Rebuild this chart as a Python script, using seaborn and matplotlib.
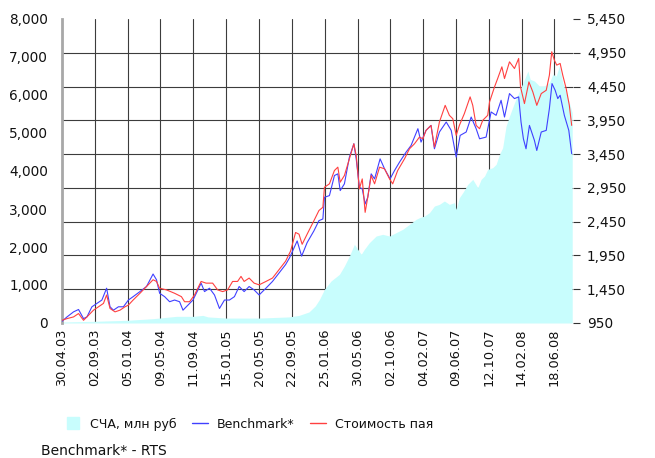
import numpy as np
import pandas as pd
import matplotlib
matplotlib.use("Agg")
import matplotlib.pyplot as plt
import matplotlib.ticker as mticker
from matplotlib.lines import Line2D
import seaborn as sns

# ---------------- data ----------------
start_date = "2003-04-30"

# Стоимость пая (unit price, right axis) : days since start, value
price_days = [0, 19, 44, 63, 82, 95, 120, 139, 158, 170, 183, 202, 221, 240, 253, 271, 297, 322,
              347, 360, 372, 398, 429, 455, 467, 486, 505, 530, 549, 574, 593, 612, 631, 650,
              669, 682, 694, 713, 732, 751, 777, 802, 827, 852, 871, 890, 903, 915, 934, 960,
              979, 994, 1000, 1019, 1038, 1051, 1060, 1076, 1095, 1112, 1121, 1133, 1144, 1155,
              1165, 1178, 1191, 1210, 1229, 1248, 1260, 1279, 1305, 1324, 1343, 1362, 1375, 1387,
              1406, 1419, 1438, 1460, 1476, 1489, 1502, 1514, 1533, 1555, 1565, 1578, 1591, 1603,
              1622, 1629, 1648, 1660, 1676, 1686, 1705, 1724, 1740, 1747, 1762, 1779, 1794, 1809,
              1826, 1845, 1857, 1866, 1876, 1885, 1898, 1908, 1921, 1933, 1942]
price_vals = [990, 1015, 1040, 1090, 990, 1040, 1140, 1190, 1240, 1365, 1165, 1115, 1140, 1190, 1215, 1290, 1390, 1490,
              1590, 1565, 1465, 1440, 1390, 1340, 1265, 1265, 1365, 1565, 1540, 1540, 1440, 1415, 1440, 1565,
              1565, 1640, 1565, 1615, 1540, 1515, 1565, 1615, 1740, 1865, 2015, 2290, 2265, 2115, 2265, 2465,
              2615, 2663, 2960, 3010, 3207, 3257, 3034, 3133, 3380, 3603, 3430, 2935, 3083, 2588,
              2811, 3133, 3010, 3257, 3232, 3083, 3010, 3207, 3380, 3529, 3603, 3702, 3677, 3801,
              3875, 3554, 3925, 4172, 4024, 3974, 3727, 3875, 4049, 4297, 4172, 3875, 3826, 3950,
              4024, 4222, 4445, 4569, 4742, 4569, 4816, 4717, 4866, 4445, 4198, 4519, 4370, 4172,
              4346, 4395, 4618, 4965, 4841, 4767, 4792, 4618, 4420, 4172, 3875]

# Benchmark* (RTS, right axis)
bench_days = [0, 19, 44, 63, 82, 95, 114, 133, 152, 170, 183, 196, 215, 234, 253, 271, 297, 322,
              347, 360, 372, 391, 410, 429, 448, 461, 480, 499, 518, 530, 543, 562, 581, 600,
              619, 638, 657, 675, 694, 713, 732, 751, 777, 802, 827, 852, 867, 896, 913, 934,
              960, 979, 994, 1000, 1019, 1038, 1051, 1060, 1076, 1095, 1112, 1121, 1133, 1144,
              1155, 1165, 1178, 1191, 1212, 1229, 1250, 1267, 1286, 1311, 1330, 1356, 1368, 1387,
              1406, 1419, 1438, 1464, 1483, 1502, 1517, 1540, 1559, 1578, 1591, 1616, 1635, 1654,
              1673, 1686, 1705, 1724, 1740, 1749, 1758, 1768, 1781, 1800, 1809, 1826, 1845, 1857,
              1867, 1879, 1889, 1898, 1914, 1931, 1942]
bench_vals = [975, 1040, 1115, 1150, 1015, 1040, 1190, 1240, 1290, 1465, 1190, 1140, 1190, 1190, 1290, 1340, 1415, 1490,
              1675, 1590, 1390, 1340, 1265, 1290, 1265, 1140, 1215, 1290, 1440, 1540, 1415, 1465, 1365, 1165,
              1290, 1290, 1340, 1490, 1415, 1490, 1440, 1365, 1465, 1565, 1690, 1815, 1915, 2165, 1940, 2140,
              2315, 2465, 2490, 2811, 2836, 3133, 3158, 2910, 3010, 3405, 3603, 3380, 2960, 2935,
              2712, 2811, 3158, 3083, 3380, 3232, 3083, 3207, 3331, 3479, 3578, 3826, 3628, 3801,
              3875, 3529, 3777, 3925, 3801, 3405, 3727, 3777, 3999, 3826, 3677, 3702, 4074, 4024,
              4247, 3999, 4346, 4272, 4297, 3925, 3677, 3529, 3875, 3653, 3504, 3777, 3801, 4123,
              4494, 4395, 4272, 4321, 4024, 3801, 3455]

# СЧА, млн руб (net asset value, left axis)
nav_days = [0, 120, 246, 347, 436, 499, 537, 556, 625, 751, 865, 903, 941, 965, 981, 1000, 1025, 1057,
            1076, 1095, 1114, 1127, 1140, 1152, 1171, 1197, 1222, 1248, 1273, 1298, 1324, 1349, 1362,
            1381, 1400, 1419, 1438, 1457, 1476, 1495, 1502, 1514, 1527, 1546, 1565, 1584, 1597, 1610,
            1622, 1641, 1654, 1667, 1679, 1692, 1705, 1724, 1743, 1762, 1775, 1784, 1800, 1819, 1838,
            1857, 1870, 1883, 1895, 1908, 1921, 1933, 1944]
nav_vals = [26, 44, 70, 114, 175, 175, 200, 160, 130, 130, 160, 200, 290, 450, 620, 886, 1105, 1280,
            1500, 1763, 2070, 1938, 1807, 1938, 2114, 2289, 2333, 2289, 2377, 2464, 2596, 2727, 2771,
            2815, 2903, 3078, 3122, 3210, 3122, 3166, 2991, 3298, 3429, 3648, 3780, 3561, 3780, 3868,
            4043, 4087, 4175, 4438, 4613, 5183, 5446, 5797, 6104, 6411, 6630, 6411, 6367, 6235, 6235,
            6323, 6542, 6499, 6762, 6323, 6060, 5797, 5534]

x_tick_labels = ["30.04.03", "02.09.03", "05.01.04", "09.05.04", "11.09.04", "15.01.05",
                 "20.05.05", "22.09.05", "25.01.06", "30.05.06", "02.10.06", "04.02.07",
                 "09.06.07", "12.10.07", "14.02.08", "18.06.08"]
end_day = 1947

left_ticks = [0, 1000, 2000, 3000, 4000, 5000, 6000, 7000, 8000]
right_ticks = [950, 1450, 1950, 2450, 2950, 3450, 3950, 4450, 4950, 5450]

legend_labels = ["СЧА, млн руб", "Benchmark*", "Стоимость пая"]
note_text = "Benchmark* - RTS"

# ---------------- styling ----------------
sns.set_theme(style="white")
plt.rcParams["font.family"] = ["DejaVu Sans"]

NAV_COLOR = "#c8fdfd"
BENCH_COLOR = "#4040ff"
PRICE_COLOR = "#ff4040"
GRID_COLOR = "#3c3c3c"
TEXT_COLOR = "#111111"

t0 = pd.Timestamp(start_date)
to_dates = lambda d: t0 + pd.to_timedelta(np.asarray(d), unit="D")

price_df = pd.DataFrame({"date": to_dates(price_days), "value": price_vals})
bench_df = pd.DataFrame({"date": to_dates(bench_days), "value": bench_vals})
nav_df = pd.DataFrame({"date": to_dates(nav_days), "value": nav_vals})

fig = plt.figure(figsize=(6.55, 4.58), dpi=100)
ax = fig.add_axes([62 / 655, 1 - 323 / 458, (573 - 62) / 655, (323 - 19) / 458])
ax2 = ax.twinx()

# area (left axis)
ax.fill_between(nav_df["date"], 0, nav_df["value"], color=NAV_COLOR, lw=0, zorder=2)

# lines (right axis)
sns.lineplot(data=bench_df, x="date", y="value", ax=ax2, color=BENCH_COLOR, lw=0.8, zorder=3)
sns.lineplot(data=price_df, x="date", y="value", ax=ax2, color=PRICE_COLOR, lw=0.8, zorder=4)

xmin, xmax = t0, t0 + pd.Timedelta(days=end_day)
ax.set_xlim(xmin, xmax)
ax2.set_xlim(xmin, xmax)
ax.set_ylim(0, 8000)
ax2.set_ylim(950, 5450)

# x ticks
xt = pd.to_datetime(x_tick_labels, format="%d.%m.%y")
ax.set_xticks(xt)
ax.set_xticklabels(x_tick_labels, rotation=90, fontsize=9.3, color=TEXT_COLOR)
ax.tick_params(axis="x", length=0, pad=4)

# left ticks (labels only)
ax.set_yticks(left_ticks)
ax.yaxis.set_major_formatter(mticker.FuncFormatter(lambda v, p: f"{int(v):,}"))
ax.tick_params(axis="y", length=0, pad=10, labelsize=9.8, labelcolor=TEXT_COLOR)

# horizontal grid at right-axis tick positions (drawn on ax so the area covers it)
ax.set_yticks([(r - 950) / 4500 * 8000 for r in right_ticks], minor=True)
ax.tick_params(axis="y", which="minor", length=0)
ax.grid(False)
ax.grid(True, axis="y", which="minor", color=GRID_COLOR, lw=0.8, zorder=1)
ax.grid(True, axis="x", which="major", color=GRID_COLOR, lw=0.8, zorder=1)
ax.set_axisbelow(True)

# right ticks
ax2.set_yticks(right_ticks)
ax2.yaxis.set_major_formatter(mticker.FuncFormatter(lambda v, p: f"{int(v):,}"))
ax2.tick_params(axis="y", direction="out", length=5, width=0.8, color="#333333",
                pad=5, labelsize=9.8, labelcolor=TEXT_COLOR, right=True)
ax2.grid(False)
for a in (ax, ax2):
    a.set_xlabel("")
    a.set_ylabel("")

for s in ["top", "right", "bottom"]:
    ax.spines[s].set_visible(False)
ax.spines["left"].set_color("#a8a8a8")
ax.spines["left"].set_linewidth(2)
for s in ax2.spines.values():
    s.set_visible(False)

# legend
handles = [
    Line2D([0], [0], color=NAV_COLOR, lw=0, marker="s", markersize=8),
    Line2D([0], [0], color=BENCH_COLOR, lw=1),
    Line2D([0], [0], color=PRICE_COLOR, lw=1),
]
fig.legend(handles, legend_labels, loc="center", bbox_to_anchor=(249 / 655, 1 - 424 / 458),
           ncol=3, frameon=False, fontsize=9, handlelength=1.3,
           columnspacing=1.25, handletextpad=0.7, labelcolor=TEXT_COLOR)

fig.text(41 / 655, 1 - 451 / 458, note_text, fontsize=10, va="center", ha="left", color=TEXT_COLOR)

fig.savefig("out.png", dpi=100)
